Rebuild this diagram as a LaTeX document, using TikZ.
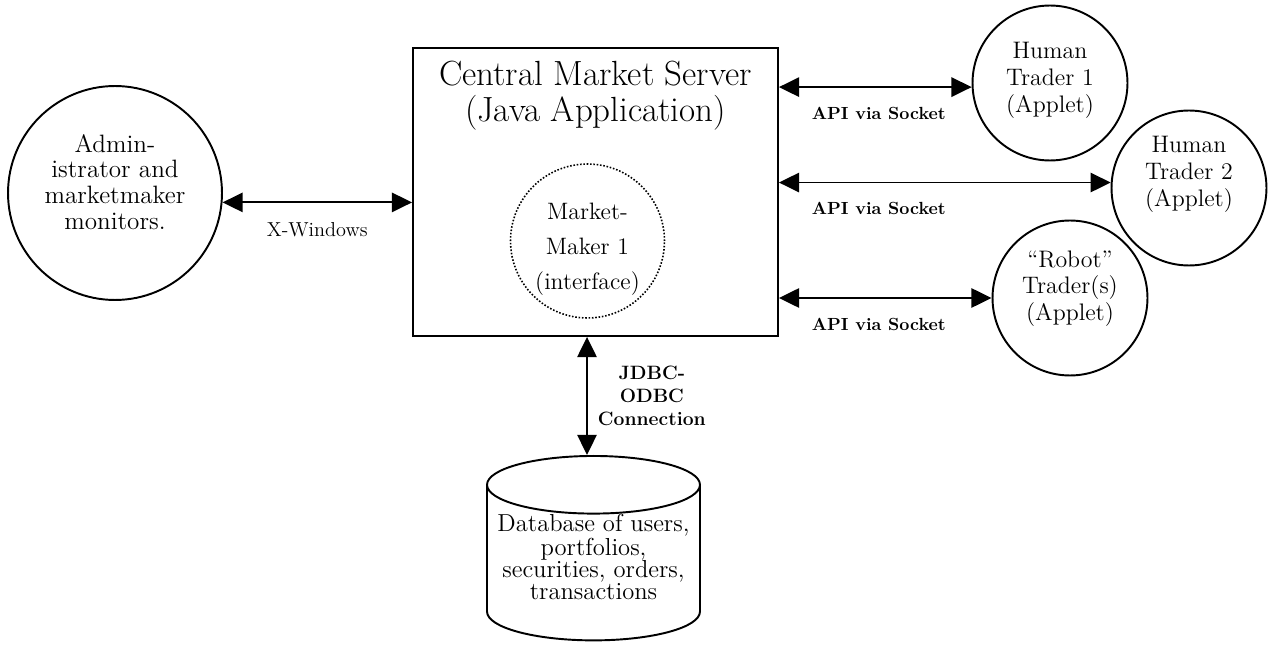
\documentclass[tikz,border=0pt]{standalone}
\usepackage{fontspec}
\usetikzlibrary{arrows.meta,shapes.geometric,positioning}
\begin{document}
\begin{tikzpicture}[x=0.02cm, y=-0.02cm, line width=1.1pt,
  every node/.style={inner sep=0pt},
  client/.style={draw, circle, minimum size=3.1cm, align=center, font=\fontsize{13.6}{15.3}\selectfont},
  biarrow/.style={{Triangle[length=11.5pt,width=11pt]}-{Triangle[length=11.5pt,width=11pt]}},
  apilabel/.style={pos=0, anchor=west, xshift=0.64cm, yshift=-0.52cm, font=\fontsize{10}{12}\selectfont\bfseries}]
  \useasboundingbox (0,0) rectangle (1269,645);

  \node[draw, circle, minimum size=4.28cm, align=center, text depth=13pt,
        font=\fontsize{14.3}{14.6}\selectfont] (admin) at (115,193)
        {Admin-\\istrator and\\marketmaker\\monitors.};
  \node[draw, minimum width=7.3cm, minimum height=5.76cm] (server) at (595.5,192) {};
  \node[below=0.26cm of server.north, align=center, font=\fontsize{19.9}{20.5}\selectfont] (title)
        {Central Market Server\\(Java Application)};
  \node[draw, circle, densely dotted, line width=0.9pt, minimum size=3.08cm, align=center,
        text height=59pt, font=\fontsize{13.5}{20}\selectfont] (maker) at (587.5,241)
        {Market-\\Maker 1\\(interface)};

  \node[client, text depth=6.5pt] (human1) at (1050,83) {Human\\Trader 1\\(Applet)};
  \node[client, text depth=19pt] (human2) at (1189,188) {Human\\Trader 2\\(Applet)};
  \node[client, text depth=14pt] (robot) at (1070,298) {``Robot''\\Trader(s)\\(Applet)};

  \node[draw, cylinder, shape border rotate=90, aspect=0.3, minimum width=4.26cm,
        minimum height=3.44cm, anchor=north, align=center, text depth=6.8pt,
        font=\fontsize{14}{12.5}\selectfont] (db) at (593.5,455)
        {Database of users,\\portfolios,\\securities, orders,\\transactions};

  \draw[biarrow] (admin.-5) -- (admin.-5 -| server.west)
    node[midway, yshift=-0.54cm, font=\fontsize{11.5}{13}\selectfont] (xwin) {X-Windows};
  \draw[biarrow] (server.east |- human1.183) -- (human1.183) node[apilabel] (api1) {API via Socket};
  \draw[biarrow] (server.east |- human2.176) -- (human2.176) node[apilabel] (api2) {API via Socket};
  \draw[biarrow] (server.east |- robot.west) -- (robot.west) node[apilabel] (api3) {API via Socket};
  \draw[biarrow] ([xshift=-0.17cm]server.south) -- ([xshift=-0.13cm]db.north)
    node[midway, right=0.2cm, align=center, font=\fontsize{11}{13.3}\selectfont\bfseries] (jdbc)
    {JDBC-\\ODBC\\Connection};
\end{tikzpicture}
\end{document}
